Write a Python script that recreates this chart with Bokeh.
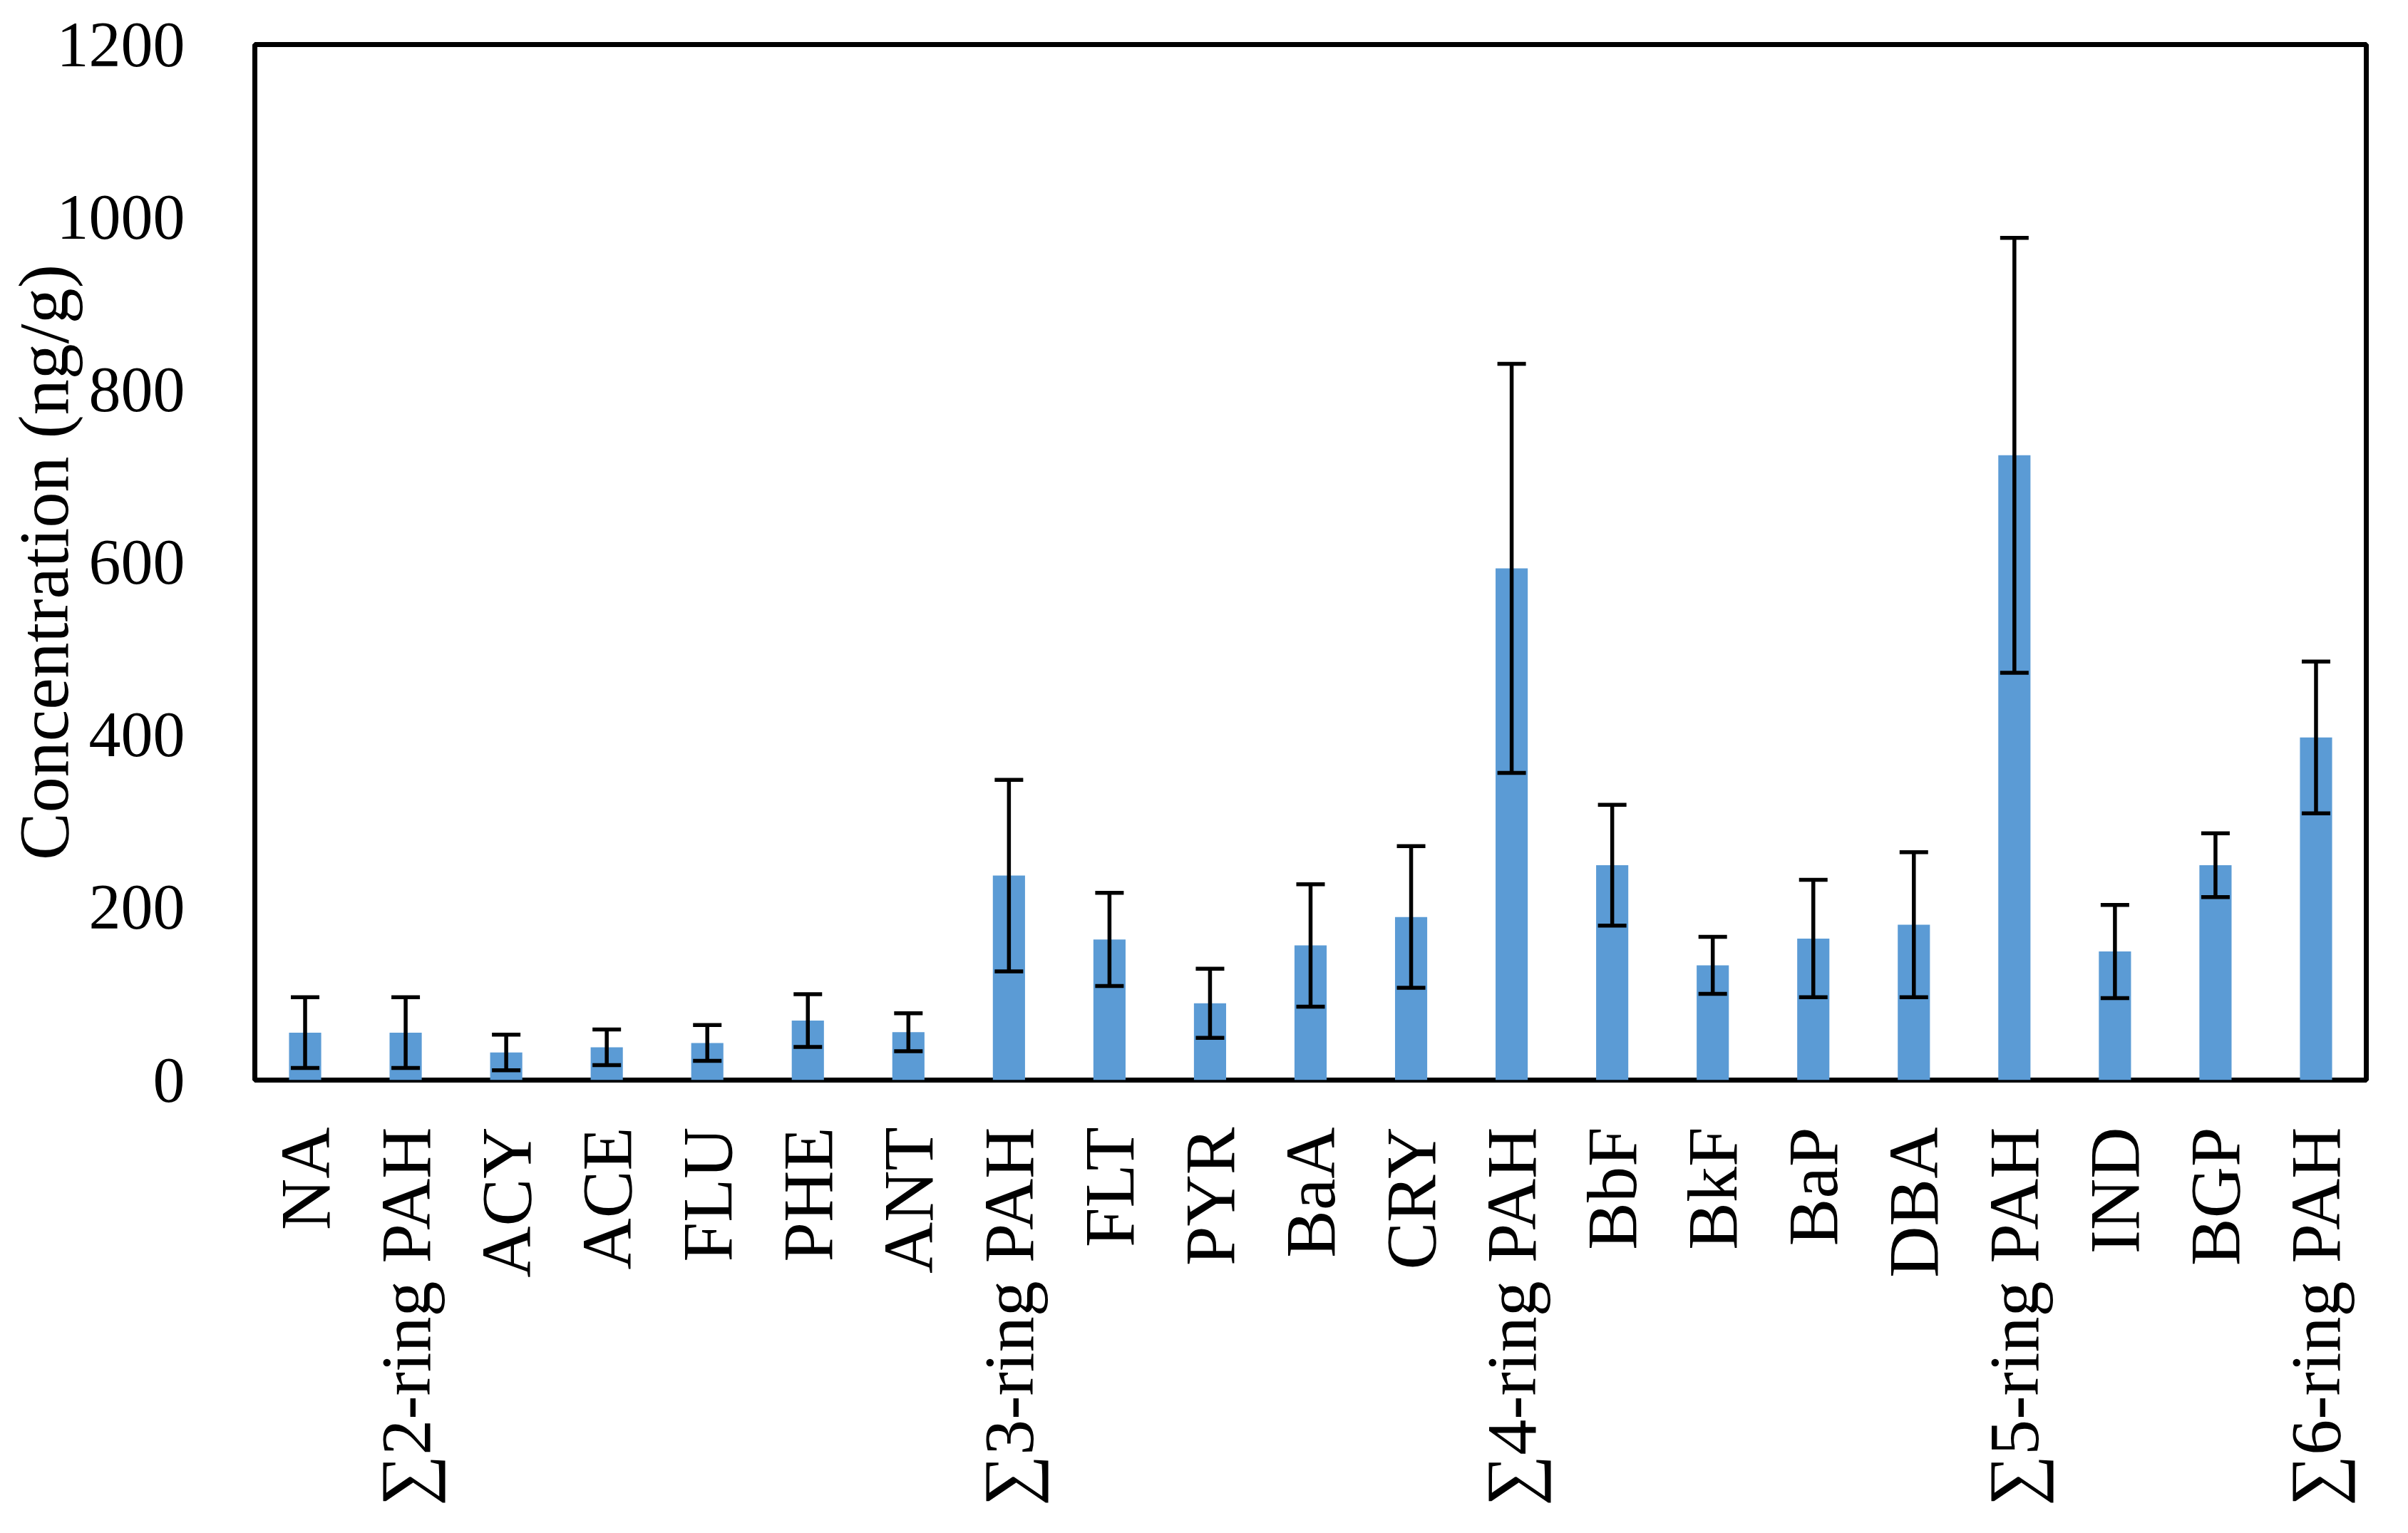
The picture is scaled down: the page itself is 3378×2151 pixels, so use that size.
import math
from bokeh.plotting import figure
from bokeh.models import (ColumnDataSource, FactorRange, Range1d, FixedTicker,
                          Whisker, TeeHead)
from bokeh.embed import file_html
from bokeh.resources import INLINE

categories = ["NA", "\u22112-ring PAH", "ACY", "ACE", "FLU", "PHE", "ANT",
              "\u22113-ring PAH", "FLT", "PYR", "BaA", "CRY", "\u22114-ring PAH",
              "BbF", "BkF", "BaP", "DBA", "\u22115-ring PAH", "IND", "BGP",
              "\u22116-ring PAH"]
means = [55, 55, 32, 38, 43, 69, 55.5, 237, 163, 89, 156, 189, 593,
         249, 133, 164, 180, 724, 149, 249, 397]
errors = [41, 41, 20.6, 20.7, 20.7, 30.6, 22, 111, 54, 40, 71, 82, 237,
          70, 33, 68, 84, 252, 54, 37, 88]
y_ticks = [0, 200, 400, 600, 800, 1000, 1200]
y_title = "Concentration (ng/g)"

FONT = "Liberation Serif"

src = ColumnDataSource(data=dict(
    cat=categories,
    mean=means,
    upper=[m + e for m, e in zip(means, errors)],
    lower=[m - e for m, e in zip(means, errors)],
))

p = figure(x_range=FactorRange(*categories), y_range=Range1d(0, 1200),
           width=3362, height=2135, output_backend="svg", toolbar_location=None,
           min_border_left=357, min_border_right=43, min_border_top=62,
           min_border_bottom=620)

p.background_fill_color = "white"
p.border_fill_color = "white"
p.xgrid.visible = False
p.ygrid.visible = False
p.outline_line_color = "black"
p.outline_line_width = 7
p.outline_line_alpha = 1.0

p.vbar(x="cat", top="mean", width=0.32, source=src,
       fill_color="#5B9BD5", line_color=None)

w = Whisker(base="cat", upper="upper", lower="lower", source=src,
            line_color="black", line_width=5.5, level="overlay",
            upper_head=TeeHead(size=40, line_width=5.5, line_color="black"),
            lower_head=TeeHead(size=40, line_width=5.5, line_color="black"))
p.add_layout(w)

# y axis
ya = p.yaxis[0]
ya.ticker = FixedTicker(ticks=y_ticks)
ya.axis_line_color = None
ya.major_tick_line_color = None
ya.minor_tick_line_color = None
ya.major_tick_out = 0
ya.major_label_standoff = 98
ya.major_label_text_font = FONT
ya.major_label_text_font_size = "90px"
ya.major_label_text_color = "black"
ya.axis_label = y_title
ya.axis_label_text_font = FONT
ya.axis_label_text_font_size = "100px"
ya.axis_label_text_font_style = "normal"
ya.axis_label_text_color = "black"
ya.axis_label_standoff = -40

# x axis
xa = p.xaxis[0]
xa.axis_line_color = None
xa.major_tick_line_color = None
xa.minor_tick_line_color = None
xa.major_tick_out = 0
xa.major_label_orientation = math.pi / 2
xa.major_label_standoff = 66
xa.major_label_text_font = FONT
xa.major_label_text_font_size = "100px"
xa.major_label_text_color = "black"

open("out.html", "w").write(file_html(p, INLINE))
